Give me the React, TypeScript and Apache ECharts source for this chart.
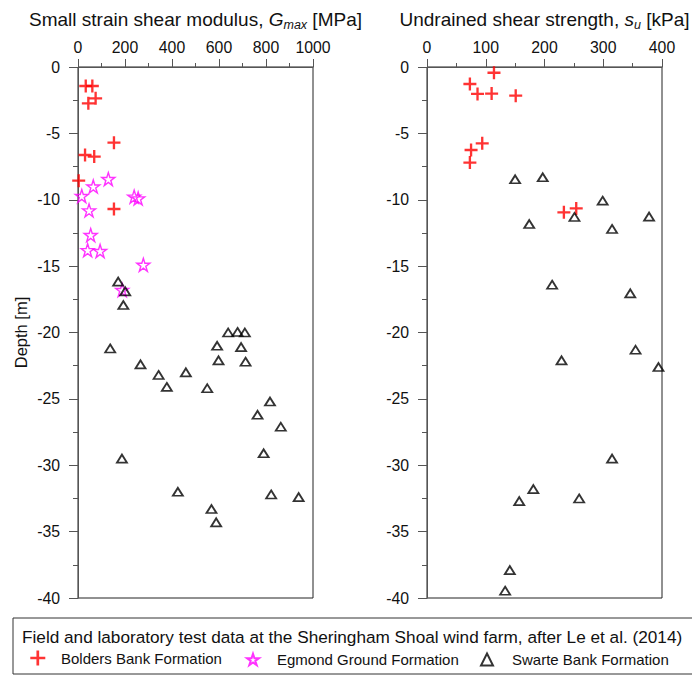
import { useEffect, useRef } from "react";
import * as echarts from "echarts";

// Left panel: Gmax [MPa] vs depth [m]
const gmaxBolders: number[][] = [
  [33, -1.43], [61, -1.43], [75, -2.36], [44, -2.74], [153, -5.7],
  [30, -6.63], [69, -6.75], [3, -8.56], [153, -10.7],
];
const gmaxEgmond: number[][] = [
  [129, -8.44], [65, -9.0], [16, -9.72], [239, -9.77], [256, -9.9],
  [47, -10.8], [54, -12.66], [41, -13.8], [94, -13.86], [278, -14.9], [188, -16.8],
];
const gmaxSwarte: number[][] = [
  [171, -16.17], [201, -16.9], [193, -17.93], [137, -21.2], [266, -22.4],
  [343, -23.2], [378, -24.1], [459, -23.0], [550, -24.2], [639, -20.0],
  [679, -19.96], [710, -20.0], [592, -21.0], [694, -21.1], [598, -22.1],
  [713, -22.2], [817, -25.2], [764, -26.2], [863, -27.1], [790, -29.1],
  [187, -29.5], [425, -32.0], [822, -32.2], [939, -32.4], [568, -33.3], [588, -34.3],
];

// Right panel: su [kPa] vs depth [m]
const suBolders: number[][] = [
  [114, -0.43], [73, -1.28], [86, -2.03], [110, -2.0], [151, -2.16],
  [94, -5.75], [75, -6.25], [73, -7.2], [233, -10.95], [254, -10.65],
];
const suSwarte: number[][] = [
  [150, -8.46], [197, -8.31], [299, -10.07], [251, -11.3], [174, -11.83],
  [315, -12.2], [378, -11.27], [213, -16.4], [346, -17.05], [229, -22.1],
  [355, -21.3], [394, -22.6], [315, -29.5], [181, -31.8], [157, -32.7],
  [259, -32.5], [141, -37.9], [133, -39.45],
];

const seriesNames = ["Bolders Bank Formation", "Egmond Ground Formation", "Swarte Bank Formation"];
const legendTitle =
  "Field and laboratory test data at the Sheringham Shoal wind farm, after Le et al. (2014)";

const FONT = "Liberation Sans, Arial, sans-serif";
const PLUS = "path://M4.1,0H5.9V4.1H10V5.9H5.9V10H4.1V5.9H0V4.1H4.1Z";
const STAR =
  "path://M10,0L12.245,6.91L19.51,6.91L13.63,11.18L15.88,18.09L10,13.82L4.12,18.09L6.37,11.18L0.49,6.91L7.755,6.91Z";

const styleBolders = {
  symbol: PLUS,
  symbolSize: 13,
  itemStyle: { color: "#ff0000" },
};
const styleEgmond = {
  symbol: STAR,
  symbolSize: 13,
  itemStyle: { color: "rgba(255,0,255,0)", borderColor: "#ff00ff", borderWidth: 1.4 },
};
const styleSwarte = {
  symbol: "triangle",
  symbolSize: [10, 8],
  itemStyle: { color: "rgba(255,255,255,0)", borderColor: "#000000", borderWidth: 1.8 },
};

function xAxisDef(gridIndex: number, max: number, interval: number) {
  return {
    type: "value",
    gridIndex,
    position: "top",
    min: 0,
    max,
    interval,
    axisLine: { show: true, lineStyle: { color: "#555", width: 1 } },
    axisTick: { show: true, length: 8, lineStyle: { color: "#555" } },
    minorTick: { show: true, splitNumber: 2, length: 4, lineStyle: { color: "#555" } },
    splitLine: { show: false },
    axisLabel: {
      fontSize: 15.8,
      fontFamily: FONT,
      color: "#111",
      margin: 12,
      formatter: (v: number) => String(v),
    },
  };
}

function yAxisDef(gridIndex: number, withName: boolean) {
  return {
    type: "value",
    gridIndex,
    min: -40,
    max: 0,
    interval: 5,
    name: withName ? "Depth [m]" : "",
    nameLocation: "middle",
    nameGap: 49,
    nameRotate: 90,
    nameTextStyle: { fontSize: 16.5, fontFamily: FONT, color: "#111" },
    axisLine: { show: true, onZero: false, lineStyle: { color: "#555", width: 1 } },
    axisTick: { show: true, length: 9, lineStyle: { color: "#555" } },
    minorTick: { show: true, splitNumber: 2, length: 5, lineStyle: { color: "#555" } },
    splitLine: { show: false },
    axisLabel: {
      fontSize: 15.8,
      fontFamily: FONT,
      color: "#111",
      margin: 18,
      formatter: (v: number) => String(v),
    },
  };
}

function titleDef(left: number, text: string) {
  return {
    left,
    top: 2,
    textAlign: "center",
    text,
    textStyle: {
      fontFamily: FONT,
      fontSize: 19,
      fontWeight: "normal",
      color: "#111",
      rich: {
        n: { fontFamily: FONT, fontSize: 19, color: "#111", lineHeight: 24 },
        i: { fontFamily: FONT, fontSize: 19, color: "#111", fontStyle: "italic", lineHeight: 24 },
        s: {
          fontFamily: FONT,
          fontSize: 12.5,
          color: "#111",
          fontStyle: "italic",
          lineHeight: 14,
          verticalAlign: "bottom",
        },
      },
    },
  };
}

export default function App() {
  const ref = useRef<HTMLDivElement>(null);
  useEffect(() => {
    if (!ref.current) return;
    const chart = echarts.init(ref.current, undefined, { renderer: "svg" });
    const legendItem = (left: number, name: string, size: number, pad: number) => ({
      left,
      top: 653 - size / 2,
      orient: "horizontal",
      itemWidth: size,
      itemHeight: size,
      data: [name],
      selectedMode: false,
      textStyle: { fontSize: 15, fontFamily: FONT, color: "#111", padding: [0, 0, 0, pad] },
    });
    chart.setOption({
      animation: false,
      backgroundColor: "#fff",
      title: [
        titleDef(190.5, "{n|Small strain shear modulus, }{i|G}{s|max}{n| [MPa]}"),
        titleDef(539.5, "{n|Undrained shear strength, }{i|s}{s|u}{n| [kPa]}"),
      ],
      grid: [
        { left: 78, top: 67, width: 235, height: 531, show: true, borderColor: "#222", borderWidth: 1, backgroundColor: "transparent" },
        { left: 427, top: 67, width: 235, height: 531, show: true, borderColor: "#222", borderWidth: 1, backgroundColor: "transparent" },
      ],
      xAxis: [xAxisDef(0, 1000, 200), xAxisDef(1, 400, 100)],
      yAxis: [yAxisDef(0, true), yAxisDef(1, false)],
      legend: [
        legendItem(25.3, seriesNames[0], 15, 10.7),
        legendItem(241, seriesNames[1], 12, 13),
        legendItem(475, seriesNames[2], 12, 14),
      ],
      graphic: [
        {
          type: "rect",
          shape: { x: 13, y: 618, width: 700, height: 56 },
          style: { fill: "none", stroke: "#333", lineWidth: 1 },
          silent: true,
        },
        {
          type: "text",
          x: 22,
          y: 637,
          style: {
            text: legendTitle,
            fontSize: 17.2,
            fontFamily: FONT,
            fill: "#111",
            verticalAlign: "middle",
            align: "left",
          },
          silent: true,
        },
      ],
      series: [
        { type: "scatter", name: seriesNames[0], xAxisIndex: 0, yAxisIndex: 0, data: gmaxBolders, ...styleBolders },
        { type: "scatter", name: seriesNames[1], xAxisIndex: 0, yAxisIndex: 0, data: gmaxEgmond, ...styleEgmond },
        { type: "scatter", name: seriesNames[2], xAxisIndex: 0, yAxisIndex: 0, data: gmaxSwarte, ...styleSwarte },
        { type: "scatter", name: seriesNames[0], xAxisIndex: 1, yAxisIndex: 1, data: suBolders, ...styleBolders },
        { type: "scatter", name: seriesNames[2], xAxisIndex: 1, yAxisIndex: 1, data: suSwarte, ...styleSwarte },
      ],
    });
    return () => chart.dispose();
  }, []);
  return (
    <div
      ref={ref}
      style={{ position: "absolute", left: 0, top: 0, width: 692, height: 675 }}
    />
  );
}
